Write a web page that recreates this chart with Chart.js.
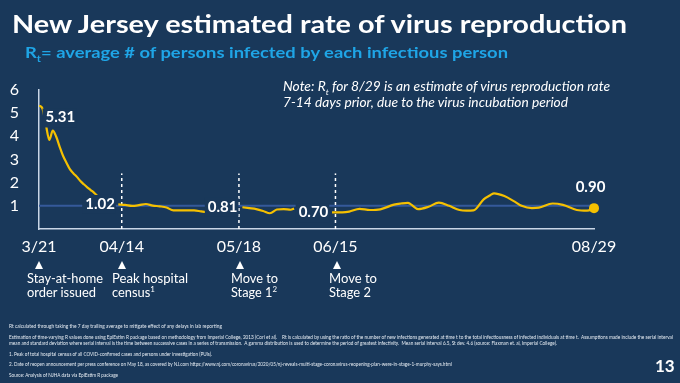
<!doctype html>
<html><head>
<meta charset="utf-8">
<title>NJ Rt</title>
<script src="https://cdn.jsdelivr.net/npm/chart.js"></script>
<style>
  html, body { margin:0; padding:0; }
  body { width:680px; height:383px; background:#19385a; position:relative; overflow:hidden;
         font-family: Lato, "Open Sans", sans-serif; color:#fff; }
  #chart { position:absolute; left:0; top:0; }
  .t { position:absolute; white-space:nowrap; line-height:1; transform-origin:0 0; }
  .tri { position:absolute; width:0; height:0; border-left:4.5px solid transparent;
         border-right:4.5px solid transparent; border-bottom:8px solid #fff; }
  .fn { font-size:5px; color:#e6ecf3; }
  sub, sup { font-size:62%; line-height:0; }
</style>
</head>
<body>

<canvas id="chart" width="680" height="383"></canvas>

<!-- titulo y subtitulo -->
<div class="t" data-w="615" style="left:12px; top:12px; font-size:24px; font-weight:700;">New Jersey estimated rate of virus reproduction</div>
<div class="t" data-w="483" style="left:25px; top:46px; font-size:14.5px; font-weight:700; color:#1fa5e6;">R<sub>t</sub>= average # of persons infected by each infectious person</div>

<!-- nota -->
<div class="t" data-w="327" style="left:283px; top:81px; font-size:12.5px; font-style:italic;">Note: R<sub>t</sub> for 8/29 is an estimate of virus reproduction rate</div>
<div class="t" data-w="285" style="left:283px; top:97px; font-size:12.5px; font-style:italic;">7-14 days prior, due to the virus incubation period</div>

<!-- eventos -->
<div class="tri" style="left:34.5px; top:261px;"></div>
<div class="tri" style="left:118px; top:261px;"></div>
<div class="tri" style="left:235.5px; top:261px;"></div>
<div class="tri" style="left:333px; top:261px;"></div>
<div class="t" data-w="76" style="left:27px; top:273px; font-size:12.5px;">Stay-at-home</div>
<div class="t" data-w="69" style="left:27px; top:287px; font-size:12.5px;">order issued</div>
<div class="t" data-w="76" style="left:112px; top:273px; font-size:12.5px;">Peak hospital</div>
<div class="t" data-w="43" style="left:112px; top:287px; font-size:12.5px;">census<sup>1</sup></div>
<div class="t" data-w="47" style="left:231px; top:273px; font-size:12.5px;">Move to</div>
<div class="t" data-w="46" style="left:231px; top:287px; font-size:12.5px;">Stage 1<sup>2</sup></div>
<div class="t" data-w="48" style="left:329px; top:273px; font-size:12.5px;">Move to</div>
<div class="t" data-w="42" style="left:329px; top:287px; font-size:12.5px;">Stage 2</div>

<!-- notas al pie -->
<div class="t fn" data-w="213" style="left:9px; top:324px;">Rt calculated through taking the 7 day trailing average to mitigate effect of any delays in lab reporting</div>
<div class="t fn" data-w="664" style="left:9px; top:335px;">Estimation of time-varying R values done using EpiEstim R package based on methodology from Imperial College, 2013 (Cori et al).&nbsp;&nbsp;&nbsp; Rt is calculated by using the ratio of the number of new infections generated at time t to the total infectiousness of infected individuals at time t.&nbsp; Assumptions made include the serial interval</div>
<div class="t fn" data-w="548" style="left:9px; top:341px;">mean and standard deviation where serial interval is the time between successive cases in a series of transmission.&nbsp; A gamma distribution is used to determine the period of greatest infectivity.&nbsp; Mean serial interval 6.5, St dev. 4.6 (source: Flaxman et. al, Imperial College).</div>
<div class="t fn" data-w="203" style="left:9px; top:352px;">1. Peak of total hospital census of all COVID-confirmed cases and persons under investigation (PUIs).</div>
<div class="t fn" data-w="443" style="left:9px; top:362px;">2. Date of reopen announcement per press conference on May 18, as covered by NJ.com https://www.nj.com/coronavirus/2020/05/nj-reveals-multi-stage-coronavirus-reopening-plan-were-in-stage-1-murphy-says.html</div>
<div class="t fn" data-w="109" style="left:9px; top:373px;">Source: Analysis of NJHA data via EpiEstim R package</div>
<div class="t" style="left:655px; top:357px; font-size:17px; font-weight:700;">13</div>

<script>
// fechas del eje x (dias desde 3/21)
const tickDays = [0, 24, 58, 86, 161];
const tickLabels = ['3/21', '04/14', '05/18', '06/15', '08/29'];

// Rt diario (null = tramo tapado por una etiqueta)
const rtDays = [0, 1, 2, 3, 4, 5, 6, 7, 8, 9, 10, 11, 12, 13, 14, 15, 16, 17, 20,
  23, 25, 27, 29, 31, 33, 35, 37, 39, 41, 43, 45, 47, 49, 54,
  59, 61, 63, 65, 67, 69, 71, 73, 74, 80,
  85, 88, 90, 93, 96, 99, 103, 105, 107, 108, 110, 113, 116, 119, 122, 124, 126,
  129, 131, 132, 135, 138, 140, 143, 145, 149, 152, 156, 159, 161];
const rtValues = [5.33, 5.2, 4.5, 3.85, 4.25, 3.98, 3.55, 3.15, 2.85, 2.57, 2.4, 2.25, 2.07, 1.93, 1.8, 1.68, 1.56, 1.42, null,
  1.06, 1.04, 1.0, 1.03, 1.08, 1.01, 0.98, 0.93, 0.8, 0.8, 0.8, 0.8, 0.76, 0.72, null,
  0.94, 0.9, 0.86, 0.78, 0.68, 0.84, 0.86, 0.83, 0.88, null,
  0.72, 0.72, 0.75, 0.87, 0.82, 0.85, 1.05, 1.1, 1.13, 1.05, 0.86, 0.96, 1.14, 1.0, 0.82, 0.79, 0.8,
  1.28, 1.47, 1.54, 1.42, 1.18, 1.0, 0.9, 0.92, 1.1, 1.04, 0.82, 0.79, 0.90];

// linea de referencia Rt = 1 y marcas de eventos
const refValue = 1;
const eventDays = [24, 58, 86];
const eventTop = 2.4;

// etiquetas con valores
const calloutDays = [0, 24, 58, 86, 161];
const calloutValues = [5.31, 1.02, 0.81, 0.70, 0.90];

const bg = '#19385a';
const gold = '#f5c000';
const axisColor = '#c9d6e6';

const calloutShift = [[21.4, 11.5], [-21.7, -1.4], [-16.3, -3.5], [-22, -0.6], [-3.5, -21.4]];

const calloutPlugin = {
  id: 'callouts',
  afterDatasetsDraw(chart) {
    const { ctx, scales: { x, y } } = chart;
    ctx.save();
    ctx.font = 'bold 15px Lato';
    ctx.textAlign = 'center';
    ctx.textBaseline = 'middle';
    calloutDays.forEach((d, i) => {
      const px = x.getPixelForValue(d) + calloutShift[i][0];
      const py = y.getPixelForValue(calloutValues[i]) + calloutShift[i][1];
      const txt = calloutValues[i].toFixed(2);
      const w = ctx.measureText(txt).width;
      if (i < calloutDays.length - 1) {
        // caja con el color de fondo, como en la diapositiva
        ctx.fillStyle = bg;
        ctx.fillRect(px - w / 2 - 3, py - 9, w + 4, 19);
      }
      ctx.fillStyle = '#fff';
      ctx.fillText(txt, px, py);
    });
    ctx.restore();
  }
};

const last = rtDays.length - 1;
const datasets = [
  {
    data: rtDays.map((d, i) => ({ x: d, y: rtValues[i] })),
    borderColor: gold, borderWidth: 2.2, pointRadius: 0,
    cubicInterpolationMode: 'monotone', spanGaps: false
  },
  {
    data: [{ x: rtDays[last], y: rtValues[last] }],
    showLine: false, pointRadius: 5, pointBackgroundColor: gold, pointBorderWidth: 0,
    clip: false
  }
];
eventDays.forEach(d => {
  datasets.push({
    data: [{ x: d, y: 0 }, { x: d, y: eventTop }],
    borderColor: '#ffffff', borderWidth: 1.5, borderDash: [3, 3], pointRadius: 0
  });
});
datasets.push({
  data: [{ x: 0, y: refValue }, { x: tickDays[tickDays.length - 1], y: refValue }],
  borderColor: '#35599a', borderWidth: 2, pointRadius: 0
});

new Chart(document.getElementById('chart'), {
  type: 'line',
  data: { datasets: datasets },
  options: {
    responsive: false,
    animation: false,
    events: [],
    layout: { padding: { left: 0, top: 90, right: 86, bottom: 124 } },
    plugins: { legend: { display: false }, tooltip: { enabled: false } },
    scales: {
      x: {
        type: 'linear', min: 0, max: 161,
        afterBuildTicks: s => { s.ticks = tickDays.map(v => ({ value: v })); },
        afterFit: s => { s.height = 30; },
        grid: { display: false },
        border: { color: axisColor, width: 1.5 },
        ticks: {
          color: '#fff', font: { family: 'Lato', size: 16 }, padding: 0,
          maxRotation: 0, autoSkip: false,
          callback: v => tickLabels[tickDays.indexOf(v)]
        }
      },
      y: {
        min: 0, max: 6,
        afterFit: s => { s.width = 39; },
        grid: { display: false },
        border: { color: axisColor, width: 1.5 },
        ticks: {
          stepSize: 1, color: '#fff', font: { family: 'Lato', size: 16 }, padding: 12,
          callback: v => (v === 0 ? '' : v)
        }
      }
    }
  },
  plugins: [calloutPlugin]
});

// ajusta el ancho de los textos al de la diapositiva
document.querySelectorAll('[data-w]').forEach(el => {
  const w = el.getBoundingClientRect().width;
  el.style.transform = 'scaleX(' + (el.dataset.w / w) + ')';
});
</script>
</body></html>
